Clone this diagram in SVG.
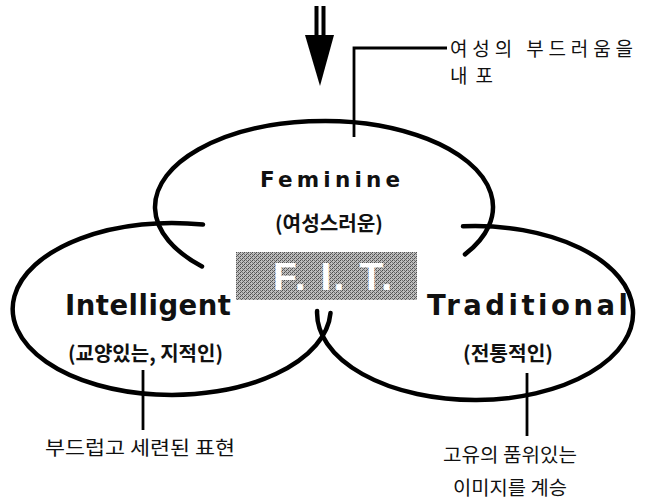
<svg xmlns="http://www.w3.org/2000/svg" width="650" height="502" viewBox="0 0 650 502">
  <defs>
    <!-- halftone screen behind the F.I.T. badge -->
    <pattern id="screen" width="4" height="4" patternUnits="userSpaceOnUse">
      <rect width="4" height="4" fill="#bdbdbd"/>
      <rect x="0" y="0" width="1" height="1" fill="#4a4a4a"/>
      <rect x="2" y="2" width="1" height="1" fill="#4a4a4a"/>
      <rect x="2" y="0" width="1" height="1" fill="#727272"/>
      <rect x="0" y="2" width="1" height="1" fill="#727272"/>
      <rect x="1" y="3" width="1" height="1" fill="#606060"/>
      <rect x="3" y="1" width="1" height="1" fill="#606060"/>
    </pattern>
    <style>
      .ring { fill: none; stroke: #000; stroke-width: 4.5; stroke-linecap: round; }
      .lead { fill: none; stroke: #000; stroke-width: 2.8; }
      .title { font-family: "DejaVu Sans", sans-serif; font-weight: bold; fill: #111; }
      .badge { font-family: "Liberation Sans", Arial, sans-serif; font-weight: bold; fill: #fff; }
      .sub { font-family: "Noto Sans CJK KR", sans-serif; font-weight: bold; font-size: 20px; fill: #111; }
      .note { font-family: "Noto Sans CJK KR", sans-serif; font-size: 19px; fill: #111; }
    </style>
  </defs>

  <rect width="650" height="502" fill="#fff"/>

  <!-- downward double-shafted arrow -->
  <g id="entry-arrow">
    <rect x="314.5" y="6" width="4" height="31" fill="#000"/>
    <rect x="321.5" y="6" width="4" height="31" fill="#000"/>
    <polygon points="305,35 334,35 320,86" fill="#000"/>
  </g>

  <!-- leader lines from each ring to its note -->
  <g id="connectors">
    <path class="lead" d="M447,48 H354 V137"/>
    <path class="lead" d="M143,370 V430"/>
    <path class="lead" d="M527,373 V436"/>
  </g>

  <g id="feminine">
    <path class="ring" d="M202,266.5 A169,86 0 1 1 465,254.4"/>
    <text class="title" x="260" y="187" font-size="21.5" textLength="140" lengthAdjust="spacing">Feminine</text>
    <text class="sub" x="275" y="231" textLength="108" lengthAdjust="spacingAndGlyphs">(여성스러운)</text>
  </g>

  <g id="intelligent">
    <path class="ring" d="M203,224.6 A159,86 0 1 0 330.5,313"/>
    <text class="title" x="65" y="315" font-size="27.5" textLength="166" lengthAdjust="spacing">Intelligent</text>
    <text class="sub" x="68" y="361" textLength="155" lengthAdjust="spacingAndGlyphs">(교양있는, 지적인)</text>
  </g>

  <g id="traditional">
    <path class="ring" d="M463,226.3 A158,87 0 1 1 317.1,311"/>
    <text class="title" x="427" y="315" font-size="27.5" textLength="201" lengthAdjust="spacing">Traditional</text>
    <text class="sub" x="463" y="361" textLength="90" lengthAdjust="spacingAndGlyphs">(전통적인)</text>
  </g>

  <g id="fit-badge">
    <rect x="236" y="252" width="181" height="48" fill="url(#screen)"/>
    <text class="badge" x="273" y="290" font-size="39" textLength="119" lengthAdjust="spacing">F. I. T.</text>
  </g>

  <g id="note-feminine">
    <text class="note" x="450" y="56" font-size="18" textLength="183" lengthAdjust="spacing">여성의 부드러움을</text>
    <text class="note" x="450" y="83" font-size="18" textLength="43" lengthAdjust="spacing">내포</text>
  </g>

  <g id="note-intelligent">
    <text class="note" x="45" y="455" textLength="190" lengthAdjust="spacingAndGlyphs">부드럽고 세련된 표현</text>
  </g>

  <g id="note-traditional">
    <text class="note" x="443" y="462" textLength="134" lengthAdjust="spacingAndGlyphs">고유의 품위있는</text>
    <text class="note" x="453" y="495" textLength="114" lengthAdjust="spacingAndGlyphs">이미지를 계승</text>
  </g>
</svg>
